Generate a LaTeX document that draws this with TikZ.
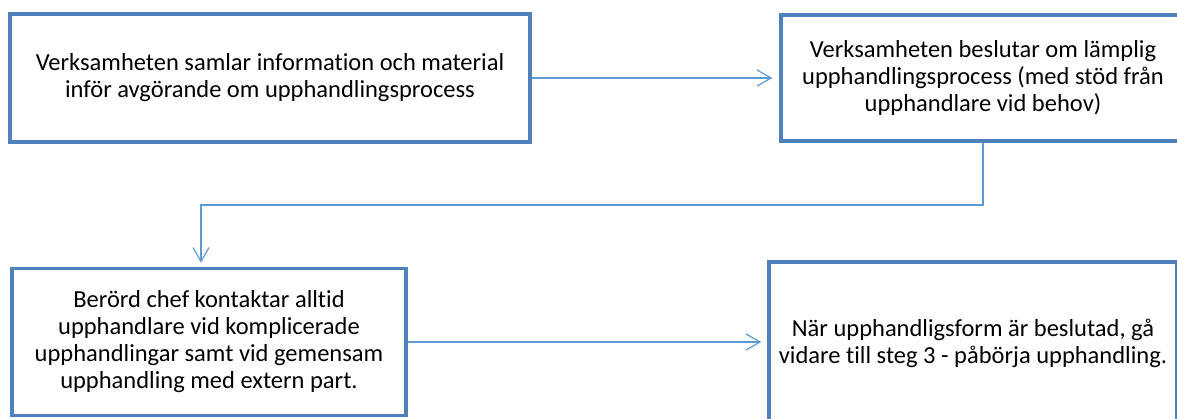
\documentclass[tikz,border=0pt]{standalone}
\usepackage{fontspec}
\setmainfont{Carlito}[Ligatures=NoCommon]
\usetikzlibrary{arrows.meta}
\definecolor{boxblue}{RGB}{79,129,189}
\definecolor{lineblue}{RGB}{91,155,213}

\begin{document}
\begin{tikzpicture}[x=1pt,y=-1pt,
  stepbox/.style={draw=boxblue,line width=3.5pt,rectangle,align=center,inner sep=0pt,
    font=\fontsize{24.5}{27}\selectfont},
  flow/.style={draw=lineblue,line width=1.2pt,-{Straight Barb[length=14pt,width=16pt]}}]

\clip (0,0) rectangle (1177,419);

\node [stepbox,minimum width=520pt,minimum height=128pt] (collect) at (270,78)
  {Verksamheten samlar information och material\\inför avgörande om upphandlingsprocess};
\node [stepbox,minimum width=404pt,minimum height=126pt] (decide) at (983,78)
  {Verksamheten beslutar om lämplig\\upphandlingsprocess (med stöd från\\upphandlare vid behov)};
\node [stepbox,minimum width=394pt,minimum height=147pt] (contact) at (209,342)
  {Berörd chef kontaktar alltid\\upphandlare vid komplicerade\\upphandlingar samt vid gemensam\\upphandling med extern part.};
\node [stepbox,minimum width=408pt,minimum height=162pt] (next) at (973,343)
  {När upphandligsform är beslutad, gå\\vidare till steg 3 - påbörja upphandling.};

\coordinate (elbow) at (201,205);

\draw [flow,shorten >=7pt] (collect.east) -- (decide.west);
\draw [flow,shorten >=4pt] (decide.south) |- (elbow) -- (elbow |- contact.north);
\draw [flow,shorten >=6pt] (contact.east) -- (contact.east -| next.west);

\end{tikzpicture}
\end{document}
